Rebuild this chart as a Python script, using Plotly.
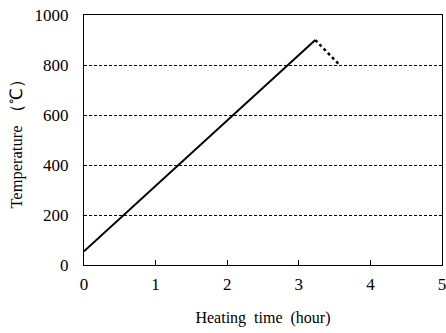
import plotly.graph_objects as go

heat_x = [0, 3.23]
heat_y = [55, 900]
cool_x = [3.23, 3.57]
cool_y = [900, 800]
x_ticks = [0, 1, 2, 3, 4, 5]
y_ticks = [0, 200, 400, 600, 800, 1000]

fig = go.Figure()
fig.add_trace(go.Scatter(x=heat_x, y=heat_y, mode="lines",
                         line=dict(color="black", width=2), showlegend=False))
fig.add_trace(go.Scatter(x=cool_x, y=cool_y, mode="lines",
                         line=dict(color="black", width=2.5, dash="dot"), showlegend=False))

font = dict(family="Liberation Serif", size=17, color="black")
fig.update_layout(
    width=446, height=333,
    margin=dict(l=84, r=4, t=15, b=68),
    plot_bgcolor="white", paper_bgcolor="white",
    font=font,
    xaxis=dict(range=[0, 5], tickvals=x_ticks, ticks="inside", ticklen=5,
               tickcolor="black", showline=True, linecolor="black", linewidth=1,
               mirror=True, showgrid=False, zeroline=False, automargin=False,
               ticklabelstandoff=4, ticklabeloverflow="allow",
               title=dict(text="Heating  time  (hour)", standoff=18,
                          font=dict(family="Liberation Serif", size=16))),
    yaxis=dict(range=[0, 1000], tickvals=y_ticks, ticks="", showline=True,
               linecolor="black", linewidth=1, mirror=True, automargin=False,
               showgrid=True, gridcolor="black", griddash="3px,2px", gridwidth=0.7,
               zeroline=False, ticklabelstandoff=11, ticklabeloverflow="allow",
               title=dict(text="Temperature （℃）", standoff=7,
                          font=dict(family="Liberation Serif", size=16.5))),
)
fig.write_html("out.html", config={"displayModeBar": False},
               post_script="document.body.style.margin='0';document.body.style.overflow='hidden';")
